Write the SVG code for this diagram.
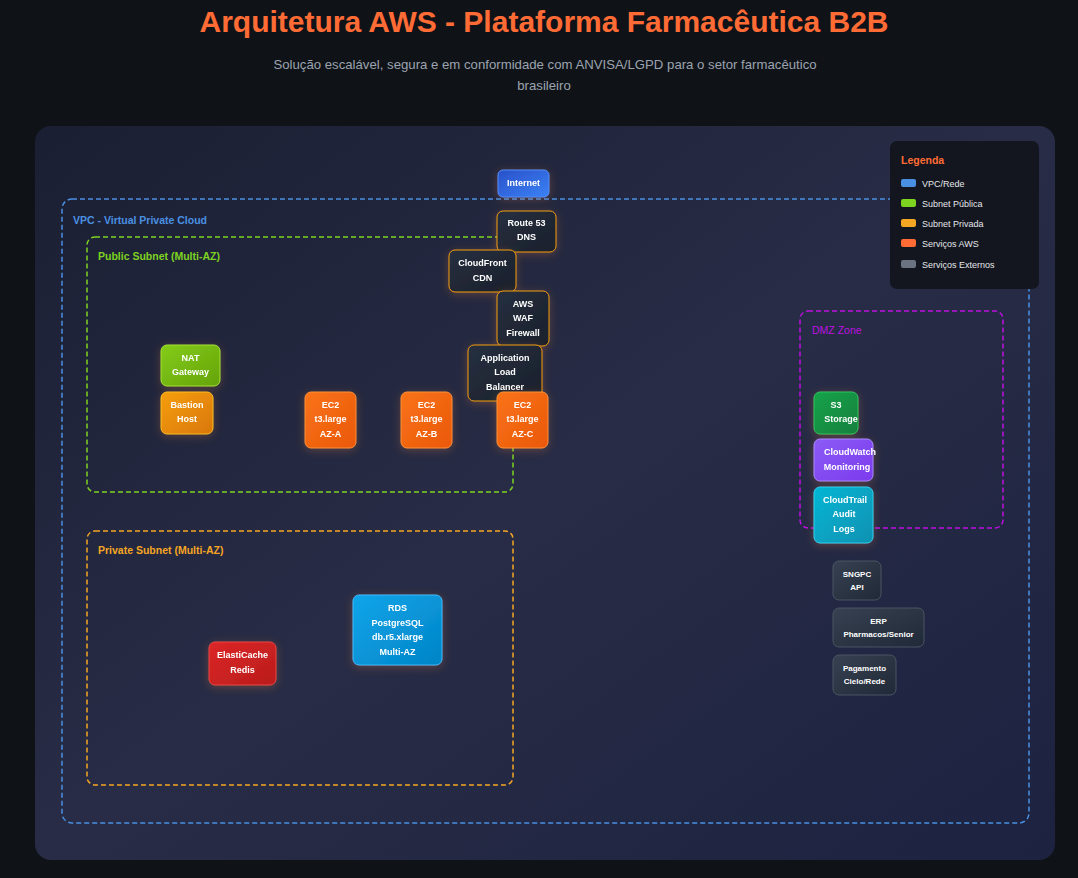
<svg xmlns="http://www.w3.org/2000/svg" width="1078" height="878" viewBox="0 0 1078 878">
<defs>
<linearGradient id="panel" x1="0" y1="0" x2="1" y2="1">
<stop offset="0" stop-color="#1a1f33"/>
<stop offset="0.5" stop-color="#282c46"/>
<stop offset="1" stop-color="#1c2240"/>
</linearGradient>
<linearGradient id="gBlue" x1="0" y1="0" x2="1" y2="1"><stop offset="0" stop-color="#2950c8"/><stop offset="1" stop-color="#3b82f6"/></linearGradient>
<linearGradient id="gDark" x1="0" y1="0" x2="1" y2="1"><stop offset="0" stop-color="#263040"/><stop offset="1" stop-color="#1a1f2b"/></linearGradient>
<linearGradient id="gOrange" x1="0" y1="0" x2="1" y2="1"><stop offset="0" stop-color="#f97316"/><stop offset="1" stop-color="#ea580c"/></linearGradient>
<linearGradient id="gGreen" x1="0" y1="0" x2="1" y2="1"><stop offset="0" stop-color="#84cc16"/><stop offset="1" stop-color="#65a30d"/></linearGradient>
<linearGradient id="gAmber" x1="0" y1="0" x2="1" y2="1"><stop offset="0" stop-color="#f59e0b"/><stop offset="1" stop-color="#d97706"/></linearGradient>
<linearGradient id="gS3" x1="0" y1="0" x2="1" y2="1"><stop offset="0" stop-color="#16a34a"/><stop offset="1" stop-color="#15803d"/></linearGradient>
<linearGradient id="gPurple" x1="0" y1="0" x2="1" y2="1"><stop offset="0" stop-color="#8b5cf6"/><stop offset="1" stop-color="#7c3aed"/></linearGradient>
<linearGradient id="gCyan" x1="0" y1="0" x2="1" y2="1"><stop offset="0" stop-color="#06b6d4"/><stop offset="1" stop-color="#0891b2"/></linearGradient>
<linearGradient id="gSky" x1="0" y1="0" x2="1" y2="1"><stop offset="0" stop-color="#0ea5e9"/><stop offset="1" stop-color="#0284c7"/></linearGradient>
<linearGradient id="gRed" x1="0" y1="0" x2="1" y2="1"><stop offset="0" stop-color="#dc2626"/><stop offset="1" stop-color="#b91c1c"/></linearGradient>
<linearGradient id="gGrey" x1="0" y1="0" x2="1" y2="1"><stop offset="0" stop-color="#374151"/><stop offset="1" stop-color="#1f2937"/></linearGradient>
<filter id="glow" x="-40%" y="-40%" width="180%" height="180%">
<feDropShadow dx="0" dy="2" stdDeviation="4" flood-color="#ff8a3d" flood-opacity="0.25"/>
</filter>
</defs>
<style>
.t{font-family:"Liberation Sans",Arial,sans-serif;font-weight:bold;font-size:9px;fill:#ffffff;text-anchor:middle}
.te{font-family:"Liberation Sans",Arial,sans-serif;font-weight:bold;font-size:8px;fill:#ffffff;text-anchor:middle}
.zl{font-family:"Liberation Sans",Arial,sans-serif;font-weight:bold;font-size:10.5px}
.zone{fill:none;stroke-width:1.5;stroke-dasharray:5 3}
.node{filter:url(#glow)}
.leg{font-family:"Liberation Sans",Arial,sans-serif;font-size:9px;fill:#e5e7eb}
</style>
<rect width="1078" height="878" fill="#0f1318"/>
<text x="544" y="32" font-family="Liberation Sans, Arial, sans-serif" font-weight="bold" font-size="30" fill="#ff6b35" text-anchor="middle">Arquitetura AWS - Plataforma Farmacêutica B2B</text>
<text x="545" y="69" font-family="Liberation Sans, Arial, sans-serif" font-size="13.2" fill="#9ca3af" text-anchor="middle">Solução escalável, segura e em conformidade com ANVISA/LGPD para o setor farmacêutico</text>
<text x="544" y="90" font-family="Liberation Sans, Arial, sans-serif" font-size="13.2" fill="#9ca3af" text-anchor="middle">brasileiro</text>
<rect x="35" y="126" width="1020" height="734" rx="16" fill="url(#panel)"/>

<g id="vpc">
<rect class="zone" x="62" y="199" width="967" height="624" rx="10" stroke="#4a90e2"/>
<text class="zl" x="73" y="224" fill="#4a90e2">VPC - Virtual Private Cloud</text>
</g>
<g id="public-subnet">
<rect class="zone" x="87" y="237" width="426" height="255" rx="8" stroke="#7ed321"/>
<text class="zl" x="98" y="260" fill="#7ed321">Public Subnet (Multi-AZ)</text>
</g>
<g id="private-subnet">
<rect class="zone" x="87" y="531" width="426" height="254" rx="8" stroke="#f5a623"/>
<text class="zl" x="98" y="554" fill="#f5a623">Private Subnet (Multi-AZ)</text>
</g>
<g id="dmz">
<rect class="zone" x="800" y="311" width="203" height="217" rx="8" stroke="#bd10e0"/>
<text x="812" y="334" font-family="Liberation Sans, Arial, sans-serif" font-size="10.5" fill="#bd10e0">DMZ Zone</text>
</g>

<g id="connectors"></g>

<g id="internet" class="node"><rect x="498" y="170" width="51" height="27" rx="5" fill="url(#gBlue)" stroke="#4f8ff7"/><text class="t" x="523.5" y="186">Internet</text></g>
<g id="route53" class="node"><rect x="497" y="211" width="59" height="41" rx="6" fill="url(#gDark)" stroke="#f59e0b"/><text class="t" x="526.5" y="226">Route 53</text><text class="t" x="526.5" y="240">DNS</text></g>
<g id="cloudfront" class="node"><rect x="449" y="250" width="67" height="42" rx="6" fill="url(#gDark)" stroke="#f59e0b"/><text class="t" x="482.5" y="266">CloudFront</text><text class="t" x="482.5" y="281">CDN</text></g>
<g id="waf" class="node"><rect x="497" y="291" width="52" height="55" rx="6" fill="url(#gDark)" stroke="#f59e0b"/><text class="t" x="523" y="307">AWS</text><text class="t" x="523" y="321">WAF</text><text class="t" x="523" y="336">Firewall</text></g>
<g id="alb" class="node"><rect x="468" y="345" width="74" height="56" rx="6" fill="url(#gDark)" stroke="#f59e0b"/><text class="t" x="505" y="361">Application</text><text class="t" x="505" y="375">Load</text><text class="t" x="505" y="390">Balancer</text></g>
<g id="ec2-a" class="node"><rect x="305" y="392" width="51" height="56" rx="6" fill="url(#gOrange)" stroke="#fb923c"/><text class="t" x="330.5" y="408">EC2</text><text class="t" x="330.5" y="422">t3.large</text><text class="t" x="330.5" y="437">AZ-A</text></g>
<g id="ec2-b" class="node"><rect x="401" y="392" width="51" height="56" rx="6" fill="url(#gOrange)" stroke="#fb923c"/><text class="t" x="426.5" y="408">EC2</text><text class="t" x="426.5" y="422">t3.large</text><text class="t" x="426.5" y="437">AZ-B</text></g>
<g id="ec2-c" class="node"><rect x="497" y="392" width="51" height="56" rx="6" fill="url(#gOrange)" stroke="#fb923c"/><text class="t" x="522.5" y="408">EC2</text><text class="t" x="522.5" y="422">t3.large</text><text class="t" x="522.5" y="437">AZ-C</text></g>
<g id="nat" class="node"><rect x="161" y="345" width="59" height="41" rx="6" fill="url(#gGreen)" stroke="#a3e635"/><text class="t" x="190.5" y="361">NAT</text><text class="t" x="190.5" y="375">Gateway</text></g>
<g id="bastion" class="node"><rect x="161" y="392" width="52" height="42" rx="6" fill="url(#gAmber)" stroke="#fbbf24"/><text class="t" x="187" y="408">Bastion</text><text class="t" x="187" y="422">Host</text></g>
<g id="s3" class="node"><rect x="814" y="392" width="44" height="42" rx="6" fill="url(#gS3)" stroke="#22c55e"/><text class="t" x="836" y="408">S3</text><text class="t" x="841" y="422">Storage</text></g>
<g id="cloudwatch" class="node"><rect x="814" y="439" width="59" height="42" rx="6" fill="url(#gPurple)" stroke="#a78bfa"/><text class="t" x="850" y="455">CloudWatch</text><text class="t" x="847" y="470">Monitoring</text></g>
<g id="cloudtrail" class="node"><rect x="814" y="487" width="59" height="56" rx="6" fill="url(#gCyan)" stroke="#22d3ee"/><text class="t" x="845" y="503">CloudTrail</text><text class="t" x="844" y="517">Audit</text><text class="t" x="844" y="532">Logs</text></g>
<g id="rds" class="node"><rect x="353" y="595" width="89" height="70" rx="6" fill="url(#gSky)" stroke="#38bdf8"/><text class="t" x="397.5" y="611">RDS</text><text class="t" x="397.5" y="626">PostgreSQL</text><text class="t" x="397.5" y="640">db.r5.xlarge</text><text class="t" x="397.5" y="655">Multi-AZ</text></g>
<g id="elasticache" class="node"><rect x="209" y="642" width="67" height="43" rx="6" fill="url(#gRed)" stroke="#ef4444"/><text class="t" x="242.5" y="658">ElastiCache</text><text class="t" x="242.5" y="673">Redis</text></g>
<g id="sngpc"><rect x="833" y="561" width="48" height="39" rx="6" fill="url(#gGrey)" stroke="#4b5563"/><text class="te" x="857" y="577">SNGPC</text><text class="te" x="857" y="590">API</text></g>
<g id="erp"><rect x="833" y="608" width="91" height="39" rx="6" fill="url(#gGrey)" stroke="#4b5563"/><text class="te" x="878.5" y="624">ERP</text><text class="te" x="878.5" y="637">Pharmacos/Senior</text></g>
<g id="pagamento"><rect x="833" y="655" width="63" height="40" rx="6" fill="url(#gGrey)" stroke="#4b5563"/><text class="te" x="864.5" y="671">Pagamento</text><text class="te" x="864.5" y="684">Cielo/Rede</text></g>

<g id="legend">
<rect x="890" y="141" width="149" height="148" rx="7" fill="#13161e"/>
<text x="901" y="164" font-family="Liberation Sans, Arial, sans-serif" font-weight="bold" font-size="10.5" fill="#ff6b35">Legenda</text>
<rect x="901" y="179" width="15" height="8" rx="2" fill="#4a90e2"/><text class="leg" x="922" y="187">VPC/Rede</text>
<rect x="901" y="199" width="15" height="8" rx="2" fill="#7ed321"/><text class="leg" x="922" y="207">Subnet Pública</text>
<rect x="901" y="219" width="15" height="8" rx="2" fill="#f5a623"/><text class="leg" x="922" y="227">Subnet Privada</text>
<rect x="901" y="239" width="15" height="8" rx="2" fill="#ff6b35"/><text class="leg" x="922" y="247">Serviços AWS</text>
<rect x="901" y="260" width="15" height="8" rx="2" fill="#6b7280"/><text class="leg" x="922" y="268">Serviços Externos</text>
</g>
</svg>
